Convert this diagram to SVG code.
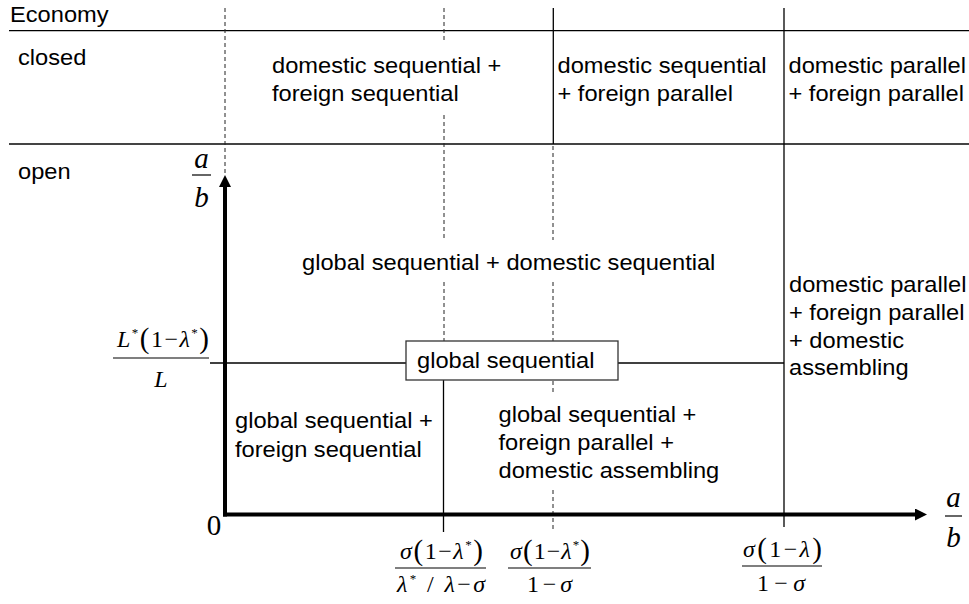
<svg xmlns="http://www.w3.org/2000/svg" width="969" height="604" viewBox="0 0 969 604">
<style>
.t{font-family:"Liberation Sans",Arial,sans-serif;font-size:21.5px;fill:#000;transform-box:fill-box;transform-origin:0 0;transform:scaleX(1.1)}
.m{font-family:"Liberation Serif","Times New Roman",serif;font-size:24px;fill:#000}
.big{font-size:29px}
.i{font-style:italic}
.sup{font-size:13px}
.p{font-size:29px}
.s{stroke:#000;stroke-width:1.3;fill:none}
.d{stroke:#222;stroke-width:1;stroke-dasharray:4 3;fill:none}
.ax{stroke:#000;stroke-width:4;fill:none}
.bar{stroke:#000;stroke-width:1.2}
</style>
<defs>
<marker id="arr" viewBox="0 0 12 12" refX="0" refY="6" markerWidth="12" markerHeight="12" markerUnits="userSpaceOnUse" orient="auto"><path d="M0,0 L12,6 L0,12 z" fill="#000"/></marker>
</defs>
<rect width="969" height="604" fill="#fff"/>

<g id="connectors">
<line class="s" x1="9" y1="30.7" x2="969" y2="30.7"/>
<line x1="9" y1="144" x2="969" y2="144" stroke="#444" stroke-width="2"/>
<line class="d" x1="225" y1="8" x2="225" y2="175"/>
<line class="d" x1="444" y1="8" x2="444" y2="43"/>
<line class="d" x1="444" y1="115" x2="444" y2="240"/>
<line class="d" x1="444" y1="282" x2="444" y2="341"/>
<line class="s" x1="443.5" y1="380" x2="443.5" y2="532"/>
<line class="s" x1="553.3" y1="8" x2="553.3" y2="144"/>
<line class="d" x1="553" y1="146" x2="553" y2="240"/>
<line class="d" x1="553" y1="282" x2="553" y2="341"/>
<line class="d" x1="553" y1="381" x2="553" y2="393"/>
<line class="d" x1="553" y1="490" x2="553" y2="530"/>
<line class="s" x1="784" y1="8" x2="784" y2="527"/>
<line class="s" x1="210" y1="363" x2="406" y2="363"/>
<line class="s" x1="618" y1="363" x2="784" y2="363"/>
<line class="ax" x1="225" y1="516.5" x2="225" y2="187" marker-end="url(#arr)"/>
<line class="ax" x1="223" y1="514.5" x2="915" y2="514.5" marker-end="url(#arr)"/>
</g>

<g id="header">
<text class="t" x="10" y="22">Economy</text>
</g>
<g id="row-closed">
<text class="t" x="18" y="65">closed</text>
</g>
<g id="closed-1">
<text class="t" x="272" y="73.5">domestic sequential +<tspan x="272" dy="28">foreign sequential</tspan></text>
</g>
<g id="closed-2">
<text class="t" x="557.5" y="73.5">domestic sequential<tspan x="557.5" dy="28">+ foreign parallel</tspan></text>
</g>
<g id="closed-3">
<text class="t" x="788.5" y="73.5">domestic parallel<tspan x="788.5" dy="28">+ foreign parallel</tspan></text>
</g>
<g id="row-open">
<text class="t" x="18" y="179">open</text>
</g>
<g id="open-top">
<text class="t" x="302" y="270.5">global sequential + domestic sequential</text>
</g>
<g id="open-right">
<text class="t" x="789" y="292">domestic parallel<tspan x="789" dy="28">+ foreign parallel</tspan><tspan x="789" dy="28">+ domestic</tspan><tspan x="789" dy="27.5">assembling</tspan></text>
</g>
<g id="box-global">
<rect x="406" y="341" width="212" height="39" fill="#fff" stroke="#333" stroke-width="1.3"/>
<text class="t" x="417" y="368">global sequential</text>
</g>
<g id="open-left">
<text class="t" x="235" y="428.3">global sequential +<tspan x="235" dy="28.4">foreign sequential</tspan></text>
</g>
<g id="open-mid">
<text class="t" x="498.5" y="421.8">global sequential +<tspan x="498.5" dy="28.2">foreign parallel +</tspan><tspan x="498.5" dy="28.3">domestic assembling</tspan></text>
</g>

<g id="y-axis-label">
<text class="m i big" x="201.5" y="168" text-anchor="middle">a</text>
<line class="bar" x1="192" y1="175" x2="211" y2="175"/>
<text class="m i big" x="201.5" y="207" text-anchor="middle">b</text>
</g>
<g id="x-axis-label">
<text class="m i big" x="953.5" y="507" text-anchor="middle">a</text>
<line class="bar" x1="945" y1="516" x2="962" y2="516"/>
<text class="m i big" x="953.5" y="547" text-anchor="middle">b</text>
</g>
<g id="origin">
<text class="m big" x="214" y="535" text-anchor="middle">0</text>
</g>
<g id="y-threshold-label">
<text class="m" x="163" y="347" text-anchor="middle" textLength="92"><tspan class="i">L</tspan><tspan class="sup" dy="-10">*</tspan><tspan class="p" dy="11">(</tspan><tspan dy="-1">1−</tspan><tspan class="i">λ</tspan><tspan class="sup" dy="-10">*</tspan><tspan class="p" dy="11">)</tspan></text>
<line class="bar" x1="113" y1="358" x2="209" y2="358"/>
<text class="m i" x="161" y="387" text-anchor="middle">L</text>
</g>
<g id="tick-1">
<text class="m" x="441.5" y="559" text-anchor="middle" textLength="83"><tspan class="i">σ</tspan><tspan class="p" dy="1">(</tspan><tspan dy="-1">1−</tspan><tspan class="i">λ</tspan><tspan class="sup" dy="-10">*</tspan><tspan class="p" dy="11">)</tspan></text>
<line class="bar" x1="395" y1="568" x2="486" y2="568"/>
<text class="m" x="441" y="592" text-anchor="middle" textLength="88"><tspan class="i">λ</tspan><tspan class="sup" dy="-9">*</tspan><tspan dy="9"> / </tspan><tspan class="i">λ</tspan>−<tspan class="i">σ</tspan></text>
</g>
<g id="tick-2">
<text class="m" x="550" y="559" text-anchor="middle" textLength="80"><tspan class="i">σ</tspan><tspan class="p" dy="1">(</tspan><tspan dy="-1">1−</tspan><tspan class="i">λ</tspan><tspan class="sup" dy="-10">*</tspan><tspan class="p" dy="11">)</tspan></text>
<line class="bar" x1="508" y1="568" x2="591" y2="568"/>
<text class="m" x="549.5" y="592" text-anchor="middle" textLength="45">1−<tspan class="i">σ</tspan></text>
</g>
<g id="tick-3">
<text class="m" x="782.5" y="557" text-anchor="middle" textLength="79"><tspan class="i">σ</tspan><tspan class="p" dy="1">(</tspan><tspan dy="-1">1−</tspan><tspan class="i">λ</tspan><tspan class="p" dy="1">)</tspan></text>
<line class="bar" x1="742" y1="566" x2="822" y2="566"/>
<text class="m" x="781" y="591" text-anchor="middle" textLength="48">1−<tspan class="i">σ</tspan></text>
</g>
</svg>
